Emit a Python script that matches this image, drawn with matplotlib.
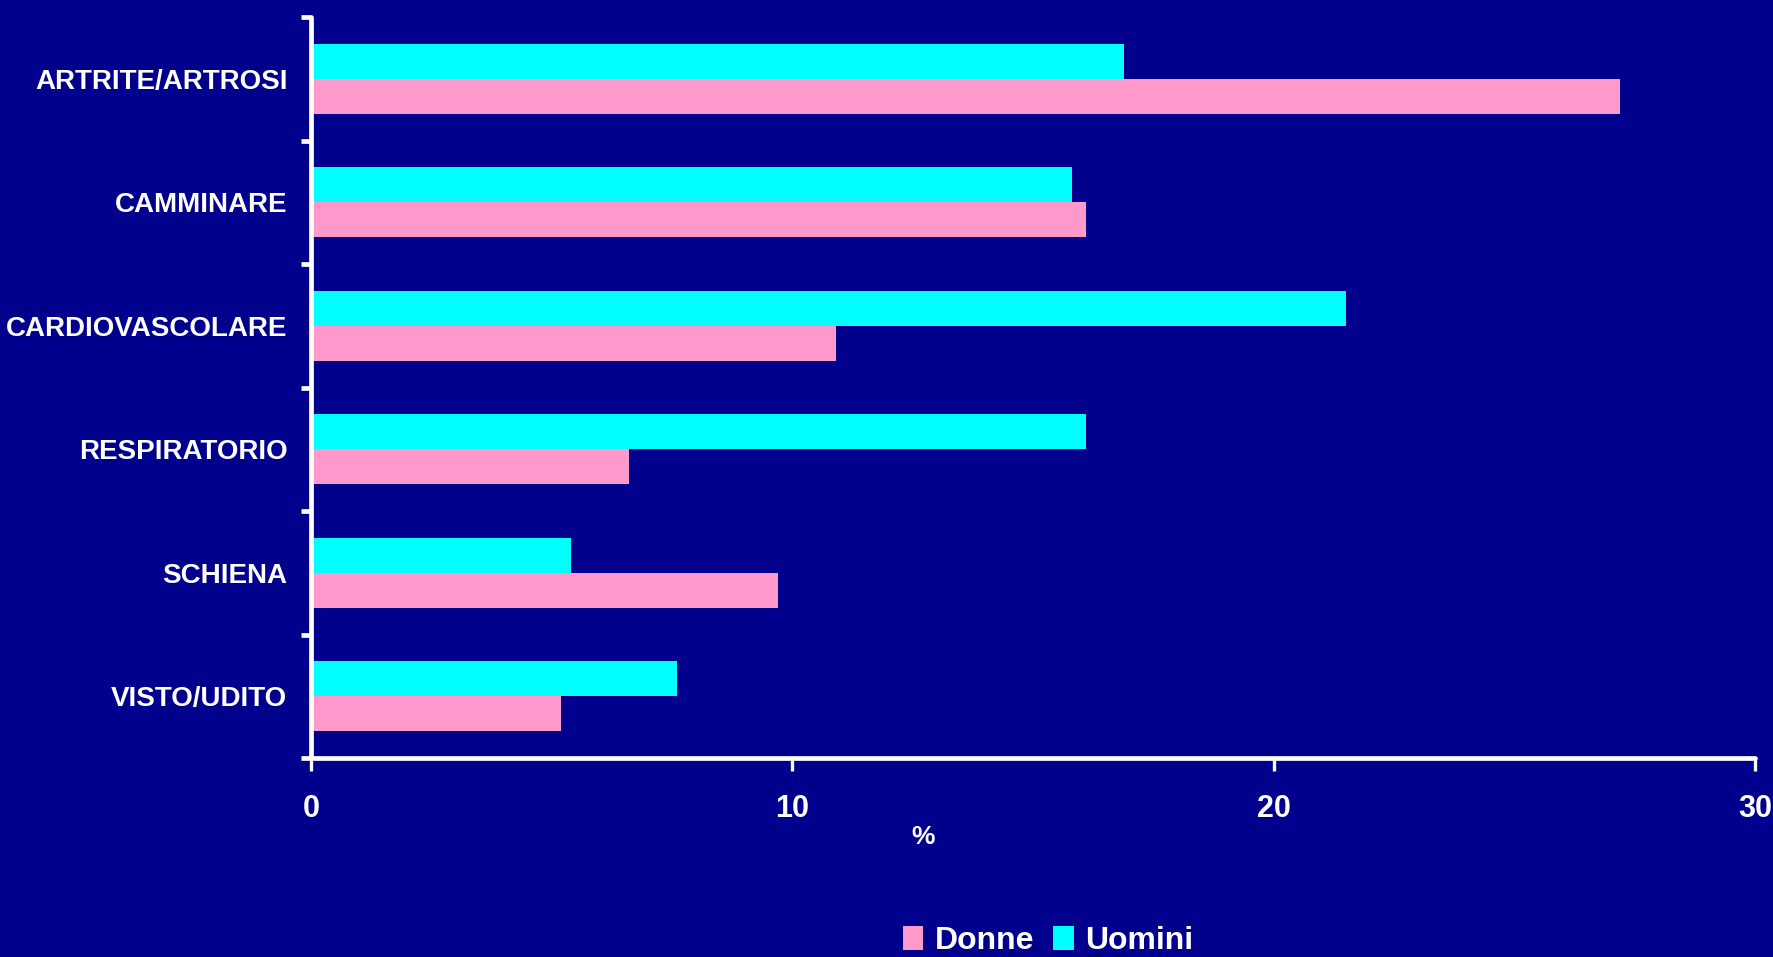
import matplotlib
matplotlib.use("Agg")
import matplotlib.pyplot as plt
import numpy as np
from matplotlib.patches import Patch

categories = ["ARTRITE/ARTROSI", "CAMMINARE", "CARDIOVASCOLARE",
              "RESPIRATORIO", "SCHIENA", "VISTO/UDITO"]
donne = [27.2, 16.1, 10.9, 6.6, 9.7, 5.2]
uomini = [16.9, 15.8, 21.5, 16.1, 5.4, 7.6]
xticks = [0, 10, 20, 30]
series_names = ["Donne", "Uomini"]

BG = "#00008C"
PINK = "#FF99CC"
CYAN = "#00FFFF"
FONT = ["Liberation Sans", "DejaVu Sans"]

plt.rcParams["font.family"] = FONT
plt.rcParams["font.weight"] = "bold"

fig = plt.figure(figsize=(17.74, 9.57), dpi=100, facecolor=BG)
ax = fig.add_axes([311/1774, 1-758/957, (1755-311)/1774, (758-17)/957])
ax.set_facecolor(BG)

y = np.arange(len(categories))
h = 0.284
ax.barh(y - h/2, uomini, height=h, color=CYAN, label=series_names[1])
ax.barh(y + h/2, donne, height=h, color=PINK, label=series_names[0])

ax.set_xlim(0, 30)
ax.set_ylim(len(categories) - 0.5, -0.5)

for s in ["top", "right"]:
    ax.spines[s].set_visible(False)
for s in ["left", "bottom"]:
    ax.spines[s].set_color("white")
    ax.spines[s].set_linewidth(3.4)
    ax.spines[s].set_capstyle("round")

ax.set_yticks(y)
ax.set_yticklabels(categories, fontsize=20, fontweight="bold", color="white")
ax.tick_params(axis="y", which="major", length=0, pad=17)
ax.set_yticks(np.arange(-0.5, len(categories)), minor=True)
ax.tick_params(axis="y", which="minor", length=7, width=3.4, color="white", direction="out")

ax.set_xticks(xticks)
ax.set_xticklabels([str(t) for t in xticks], fontsize=22, fontweight="bold", color="white")
ax.tick_params(axis="x", which="major", length=9, width=2.4, color="white", direction="out", pad=17)

fig.text(923/1774, 1-837/957, "%", fontsize=19, fontweight="bold", color="white",
         ha="center", va="center")

handles = [Patch(facecolor=PINK, edgecolor="none"), Patch(facecolor=CYAN, edgecolor="none")]
leg = fig.legend(handles, series_names, loc="center", ncol=2, frameon=False,
                 bbox_to_anchor=(1048/1774, 1-941/957), fontsize=23,
                 handlelength=0.65, handleheight=0.8, handletextpad=0.35,
                 columnspacing=0.6, borderpad=0.1)
for t in leg.get_texts():
    t.set_color("white")
    t.set_fontweight("bold")

fig.savefig("out.png", dpi=100, facecolor=BG)
